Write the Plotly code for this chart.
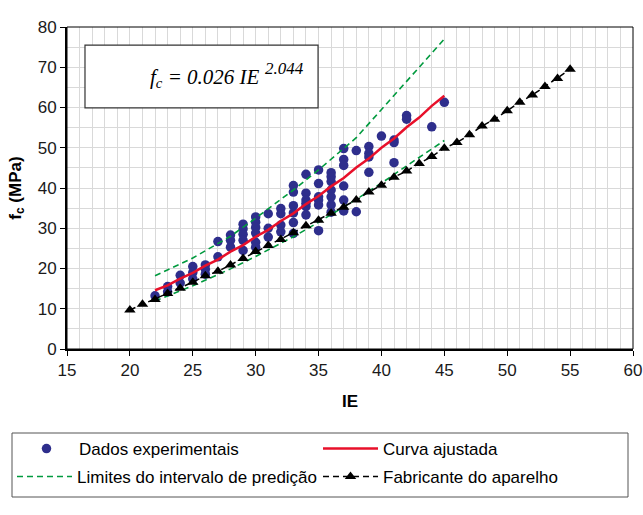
import plotly.graph_objects as go

# ---- Data ----
exp_ie = [22,
          23, 23,
          24, 24,
          25, 25, 25,
          26, 26, 26,
          27, 27,
          28, 28, 28,
          29, 29, 29, 29, 29,
          30, 30, 30, 30, 30, 30,
          31, 31, 31,
          32, 32, 32, 32,
          33, 33, 33, 33, 33, 33,
          34, 34, 34, 34, 34, 34,
          35, 35, 35, 35, 35, 35,
          36, 36, 36, 36, 36, 36, 36,
          37, 37, 37, 37, 37, 37,
          38, 38,
          39, 39, 39, 39,
          40,
          41, 41, 41,
          42, 42,
          44,
          45]
exp_fc = [13.2,
          15.5, 14.2,
          18.3, 16.4,
          20.5, 19.0, 17.4,
          20.9, 19.8, 18.6,
          26.7, 22.9,
          28.3, 27.0, 25.3,
          31.0, 29.8, 28.5, 27.0, 24.5,
          32.8, 31.5, 30.2, 28.8, 26.5, 25.3,
          33.6, 30.0, 27.8,
          34.9, 33.6, 30.8, 29.1,
          40.6, 39.0, 35.6, 33.8, 31.4, 28.7,
          43.4, 38.7, 37.0, 36.2, 35.4, 33.3,
          44.5, 41.1, 37.8, 37.0, 35.8, 29.4,
          43.8, 42.8, 41.6, 39.5, 37.8, 35.8, 34.0,
          49.8, 47.1, 45.6, 40.5, 37.0, 34.3,
          49.3, 34.1,
          50.3, 48.6, 47.7, 43.9,
          52.9,
          51.9, 51.3, 46.3,
          58.0, 57.1,
          55.2,
          61.3]

fit_ie = [22, 23, 24, 25, 26, 27, 28, 29, 30, 31, 32, 33, 34, 35, 36, 37, 38, 39, 40, 41, 42, 43, 44, 45]
fit_fc = [14.6, 15.8, 17.5, 18.9, 20.7, 22.2, 24.2, 25.8, 27.9, 29.6, 31.8, 33.7, 36.0, 38.0, 40.4, 42.5, 45.1, 47.3, 50.0, 52.3, 55.1, 57.5, 60.4, 62.9]

upper_ie = [22, 25, 28, 30, 33, 35, 38, 40, 42, 45]
upper_fc = [18.2, 22.6, 28.0, 32.5, 39.5, 44.5, 52.5, 59.5, 66.5, 77.0]
lower_ie = [22, 25, 28, 30, 33, 35, 38, 40, 42, 45]
lower_fc = [11.9, 15.7, 19.9, 23.0, 27.9, 31.5, 37.2, 41.2, 45.5, 51.8]

fab_ie = [20, 21, 22, 23, 24, 25, 26, 27, 28, 29, 30, 31, 32, 33, 34, 35, 36, 37,
          38, 39, 40, 41, 42, 43, 44, 45, 46, 47, 48, 49, 50, 51, 52, 53, 54, 55]
fab_fc = [9.7, 11.1, 12.3, 13.8, 15.1, 16.6, 18.2, 19.3, 20.9, 22.5, 24.2, 25.7, 27.2, 28.9, 30.6, 32.0, 33.7, 35.2,
          37.0, 39.0, 40.7, 42.7, 44.2, 46.1, 47.8, 49.9, 51.3, 53.2, 55.4, 57.1, 59.2, 61.3, 63.1, 65.2, 67.2, 69.5]

x_ticks = [15, 20, 25, 30, 35, 40, 45, 50, 55, 60]
y_ticks = [0, 10, 20, 30, 40, 50, 60, 70, 80]

FONT = "Liberation Sans, Arial, sans-serif"
SERIF = "Liberation Serif, Times New Roman, serif"
GREEN = "#009a3e"
RED = "#e8102a"
BLUE = "#2e2e8c"

fig = go.Figure()

fig.add_trace(go.Scatter(
    x=exp_ie, y=exp_fc, mode="markers", name="Dados experimentais",
    marker=dict(color=BLUE, size=9.5, line=dict(width=0)), legend="legend"))
fig.add_trace(go.Scatter(
    x=fit_ie, y=fit_fc, mode="lines", name="Curva ajustada",
    line=dict(color=RED, width=2.5), legend="legend2"))
fig.add_trace(go.Scatter(
    x=upper_ie, y=upper_fc, mode="lines", name="Limites do intervalo de predição",
    line=dict(color=GREEN, width=1.6, dash="6px,4px"), legend="legend3",
    legendgroup="lim"))
fig.add_trace(go.Scatter(
    x=lower_ie, y=lower_fc, mode="lines", name="Limites do intervalo de predição",
    line=dict(color=GREEN, width=1.6, dash="6px,4px"), showlegend=False,
    legend="legend3", legendgroup="lim"))
fig.add_trace(go.Scatter(
    x=fab_ie, y=fab_fc, mode="lines+markers", name="Fabricante do aparelho",
    line=dict(color="black", width=1.5, dash="6px,4px"),
    marker=dict(symbol="triangle-up", color="black", size=10),
    legend="legend4"))

# paper-coordinate helpers (plot area: 566 x 322 px)
L, T, W, H = 67, 27, 566, 322
def px(xp):
    return (xp - L) / W
def py(yp):
    return (T + H - yp) / H

def leg(xp, yp):
    return dict(x=px(xp), y=py(yp), orientation="h", xanchor="left", yanchor="middle",
                font=dict(family=FONT, size=17, color="black"),
                bgcolor="rgba(0,0,0,0)", borderwidth=0, itemwidth=55)

fig.update_layout(
    width=643, height=515,
    margin=dict(l=L, r=643 - L - W, t=T, b=515 - T - H),
    paper_bgcolor="white", plot_bgcolor="white",
    font=dict(family=FONT, size=17, color="#1a1a1a"),
    showlegend=True,
    legend=leg(14, 449),
    legend2=leg(318, 449),
    legend3=leg(12, 477),
    legend4=leg(318, 477),
    xaxis=dict(
        range=[15, 60], tickvals=x_ticks, ticks="outside", ticklen=5,
        tickcolor="black", showline=True, linecolor="black", linewidth=2,
        showgrid=True, gridcolor="#d9d9d9", gridwidth=1, zeroline=False,
        minor=dict(dtick=1, showgrid=True, gridcolor="#d9d9d9", gridwidth=1),
        tickfont=dict(family=FONT, size=17, color="#1a1a1a"), automargin=False,
        title=dict(text="<b>IE</b>", font=dict(family=FONT, size=17, color="black"), standoff=16),
    ),
    yaxis=dict(
        range=[0, 80], tickvals=y_ticks, ticks="outside", ticklen=5,
        tickcolor="black", showline=True, linecolor="black", linewidth=2,
        showgrid=True, gridcolor="#d9d9d9", gridwidth=1, zeroline=False,
        minor=dict(dtick=5, showgrid=True, gridcolor="#d9d9d9", gridwidth=1),
        tickfont=dict(family=FONT, size=17, color="#1a1a1a"), automargin=False,
        title=dict(text="<b>f<sub>c</sub> (MPa)</b>", font=dict(family=FONT, size=17, color="black"), standoff=12),
    ),
    shapes=[
        # plot frame (top/right)
        dict(type="rect", xref="paper", yref="paper", x0=0, x1=1, y0=0, y1=1,
             line=dict(color="black", width=1), layer="above"),
        # equation box
        dict(type="rect", xref="x", yref="y", x0=16.43, x1=34.96, y0=59.9, y1=75.5,
             line=dict(color="#333333", width=1.2), fillcolor="white", layer="above"),
        # legend box
        dict(type="rect", xref="paper", yref="paper", x0=px(12), x1=px(628), y0=py(497), y1=py(433),
             line=dict(color="#555555", width=1), fillcolor="white", layer="below"),
    ],
    annotations=[
        dict(x=30.5, y=67.3, xref="x", yref="y", showarrow=False, xanchor="right",
             text="<i>f<sub>c</sub> = 0.026 IE</i>",
             font=dict(family=SERIF, size=21, color="black")),
        dict(x=30.55, y=69.8, xref="x", yref="y", showarrow=False, xanchor="left",
             text="<i>2.044</i>",
             font=dict(family=SERIF, size=17, color="black")),
    ],
)

fig.write_html("out.html",
               config={"displayModeBar": False},
               post_script="document.body.style.margin='0';document.body.style.padding='0';")
